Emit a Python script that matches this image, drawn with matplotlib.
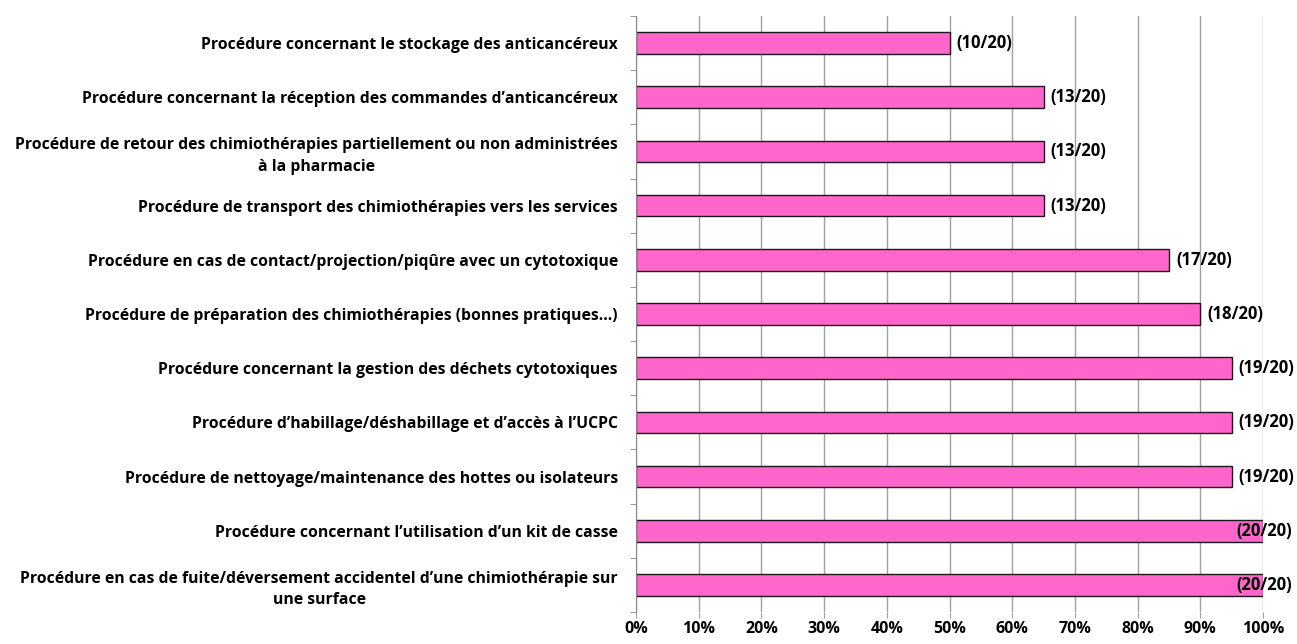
import numpy as np
import matplotlib.pyplot as plt
from matplotlib.ticker import FixedLocator, PercentFormatter

procedures = [
    "Procédure concernant le stockage des anticancéreux",
    "Procédure concernant la réception des commandes d\u2019anticancéreux",
    "Procédure de retour des chimiothérapies partiellement ou non administrées\nà la pharmacie",
    "Procédure de transport des chimiothérapies vers les services",
    "Procédure en cas de contact/projection/piqûre avec un cytotoxique",
    "Procédure de préparation des chimiothérapies (bonnes pratiques\u2026)",
    "Procédure concernant la gestion des déchets cytotoxiques",
    "Procédure d\u2019habillage/déshabillage et d\u2019accès à l\u2019UCPC",
    "Procédure de nettoyage/maintenance des hottes ou isolateurs",
    "Procédure concernant l\u2019utilisation d\u2019un kit de casse",
    "Procédure en cas de fuite/déversement accidentel d\u2019une chimiothérapie sur\nune surface",
]
counts = [10, 13, 13, 13, 17, 18, 19, 19, 19, 20, 20]
total = 20

plt.rcParams['font.family'] = ['Open Sans', 'DejaVu Sans']

fig = plt.figure(figsize=(12.97, 6.44), dpi=100)
ax = fig.add_axes([636/1297, 1-612/644, 627/1297, 596/644])

n = len(counts)
y = np.arange(n)[::-1]
pct = np.array(counts) / total * 100
ax.barh(y, pct, height=0.4, color='#FF66CC', edgecolor='#1a1a1a', linewidth=1, zorder=3)

for yi, v, c in zip(y, pct, counts):
    off = 5 if v < 100 else -19
    ax.annotate('(%d/%d)' % (c, total), (v, yi), xytext=(off, 0), textcoords='offset points',
                ha='left', va='center', fontsize=12, fontweight='bold', zorder=4)

ax.set_xlim(0, 100)
ax.set_ylim(-0.5, n - 0.5)
ax.set_xticks(np.arange(0, 101, 10))
ax.xaxis.set_major_formatter(PercentFormatter(decimals=0))
ax.set_yticks(y)
ax.set_yticklabels(procedures, multialignment='center', linespacing=1.45)
ax.yaxis.set_minor_locator(FixedLocator(np.arange(-0.5, n, 1)))
ax.tick_params(axis='y', which='major', length=0, pad=13, labelsize=11.3)
ax.tick_params(axis='y', which='minor', length=4, color='#888888', direction='out')
ax.tick_params(axis='x', length=4.5, color='#A0A0A0', pad=2, labelsize=11.5)
for lab in ax.get_xticklabels() + ax.get_yticklabels():
    lab.set_fontweight('bold')

ax.grid(axis='x', color='#A0A0A0', linewidth=1, zorder=0)
for s in ['top', 'right', 'bottom']:
    ax.spines[s].set_visible(False)
ax.spines['left'].set_color('#888888')
ax.spines['left'].set_zorder(5)

plt.savefig('out.png', dpi=100)
